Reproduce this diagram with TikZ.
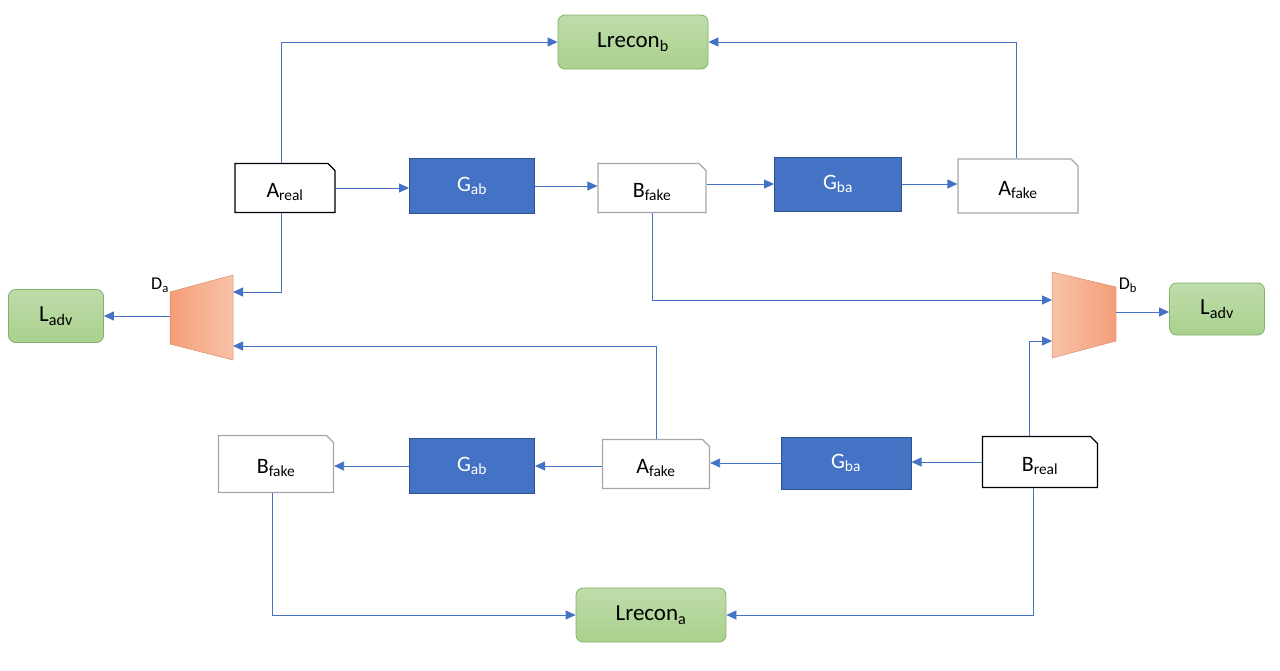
\documentclass[tikz,border=0pt]{standalone}
\usepackage{fontspec}
\setmainfont{Carlito}
\usetikzlibrary{arrows.meta,shapes.misc}
\definecolor{gfill}{HTML}{A9D18E}
\definecolor{gline}{HTML}{82B366}
\definecolor{bfill}{HTML}{4472C4}
\definecolor{bline}{HTML}{2F528F}
\definecolor{conn}{HTML}{4472C4}
\definecolor{odark}{HTML}{F49E78}
\definecolor{olight}{HTML}{F8C3A8}
\definecolor{grayline}{HTML}{A6A6A6}
\newcommand{\lowtxt}[1]{\raisebox{-4pt}[\height][\depth]{#1}}
\tikzset{
  loss/.style={draw=gline, line width=0.8pt, rounded corners=7pt, top color=gfill!75!white, bottom color=gfill, minimum width=#1, minimum height=54pt, inner sep=0pt, font=\fontsize{23}{26}\selectfont},
  loss/.default=150pt,
  gen/.style={draw=bline, line width=1pt, fill=bfill, text=white, minimum width=126pt, minimum height=54pt, inner sep=0pt, font=\fontsize{22}{25}\selectfont},
  datareal/.style={chamfered rectangle, chamfered rectangle corners=north east, chamfered rectangle xsep=3.5pt, chamfered rectangle ysep=3.5pt, draw=black, line width=1.2pt, fill=white, minimum width=100pt, minimum height=49pt, inner sep=0pt, font=\fontsize{22}{25}\selectfont},
  datafake/.style={datareal, draw=grayline},
  conn/.style={draw=conn, line width=0.8pt, -{Triangle[length=10pt,width=9pt]}},
  dlabel/.style={font=\fontsize{18}{20}\selectfont, inner sep=0pt}
}
\begin{document}
\begin{tikzpicture}[x=1pt,y=-1pt]
\useasboundingbox (0,0) rectangle (1280,670);
% losses
\node[loss] (Lreconb) at (633,42) {Lrecon\textsubscript{b}};
\node[loss] (Lrecona) at (651,615) {Lrecon\textsubscript{a}};
\node[loss=95pt, minimum height=53pt] (LadvA) at (56,316) {L\textsubscript{adv}};
\node[loss=95pt, minimum height=52pt] (LadvB) at (1217,309) {L\textsubscript{adv}};
% top row
\node[datareal, minimum width=100pt, minimum height=49pt] (Areal) at (285,188) {\lowtxt{A\textsubscript{real}}};
\node[gen, minimum width=125pt, minimum height=55pt] (Gab1) at (472,186) {G\textsubscript{ab}};
\node[datafake, minimum width=108pt] (Bfake1) at (652,188) {\lowtxt{B\textsubscript{fake}}};
\node[gen, minimum width=127pt, minimum height=54pt] (Gba1) at (838,184) {G\textsubscript{ba}};
\node[datafake, minimum width=120pt, minimum height=54pt] (Afake1) at (1018,186) {\lowtxt{A\textsubscript{fake}}};
% bottom row
\node[datafake, minimum width=115pt, minimum height=57pt] (Bfake2) at (276,464) {\lowtxt{B\textsubscript{fake}}};
\node[gen, minimum width=125pt, minimum height=55pt] (Gab2) at (472,466) {G\textsubscript{ab}};
\node[datafake, minimum width=107pt, minimum height=49pt] (Afake2) at (656,464) {\lowtxt{A\textsubscript{fake}}};
\node[gen, minimum width=130pt, minimum height=52pt] (Gba2) at (846,463) {G\textsubscript{ba}};
\node[datareal, minimum width=115pt, minimum height=51pt] (Breal) at (1040,462) {\lowtxt{B\textsubscript{real}}};
% discriminators
\shade[left color=odark, right color=olight, draw=odark!90!black, line width=0.5pt]
  (170,292) -- (233,275) -- (233,360) -- (170,344) -- cycle;
\shade[left color=olight, right color=odark, draw=odark!90!black, line width=0.5pt]
  (1052,272) -- (1116,287) -- (1116,341) -- (1052,358) -- cycle;
\coordinate (DaIn1) at (233,292);
\coordinate (DaIn2) at (233,346);
\coordinate (DaOut) at (170,316);
\coordinate (DbIn1) at (1052,300);
\coordinate (DbIn2) at (1052,341);
\coordinate (DbOut) at (1116,312);
\node[dlabel] (Dalabel) at (160,285) {D\textsubscript{a}};
\node[dlabel] (Dblabel) at (1128,285) {D\textsubscript{b}};
% connectors top
\draw[conn] ([xshift=-4pt]Areal.north) |- (Lreconb.west);
\draw[conn] ([xshift=-2pt]Afake1.north) |- (Lreconb.east);
\draw[conn] (Areal.east) -- (Gab1.west |- Areal.east);
\draw[conn] (Gab1.east) -- (Bfake1.west |- Gab1.east);
\draw[conn] (Bfake1.east |- Gba1.west) -- (Gba1.west);
\draw[conn] (Gba1.east) -- (Afake1.west |- Gba1.east);
% to discriminators
\draw[conn] ([xshift=-4pt]Areal.south) |- (DaIn1);
\draw[conn] (Afake2.north) |- (DaIn2);
\draw[conn] (DaOut) -- (LadvA.east |- DaOut);
\draw[conn] (Bfake1.south) |- (DbIn1);
\draw[conn] ([xshift=-11pt]Breal.north) |- (DbIn2);
\draw[conn] (DbOut) -- (LadvB.west |- DbOut);
% bottom row
\draw[conn] (Breal.west) -- (Gba2.east |- Breal.west);
\draw[conn] (Gba2.west) -- (Afake2.east |- Gba2.west);
\draw[conn] (Afake2.west |- Gab2.east) -- (Gab2.east);
\draw[conn] (Gab2.west) -- (Bfake2.east |- Gab2.west);
\draw[conn] ([xshift=-4pt]Bfake2.south) |- (Lrecona.west);
\draw[conn] ([xshift=-7pt]Breal.south) |- (Lrecona.east);
\end{tikzpicture}
\end{document}
